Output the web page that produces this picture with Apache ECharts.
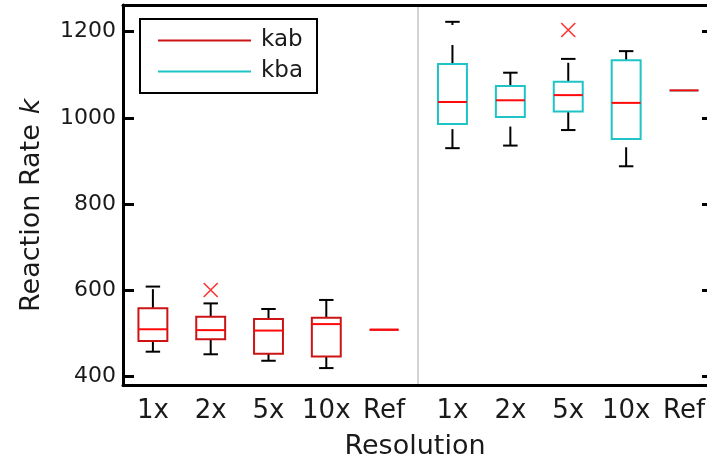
<!DOCTYPE html>
<html>
<head>
<meta charset="utf-8">
<script src="https://cdn.jsdelivr.net/npm/echarts@6/dist/echarts.min.js"></script>
<style>
  html, body { margin: 0; padding: 0; background: #ffffff; }
  #chart { width: 707px; height: 465px; }
</style>
</head>
<body>
<div id="chart"></div>
<script>
// Resolution levels shown under each group
const resolutions = ['1x', '2x', '5x', '10x', 'Ref'];

// Five-number summaries per resolution: [min, Q1, median, Q3, max]
const kabStats = [
  [458, 483, 510, 559, 609],
  [452, 487, 508, 539, 570],
  [437, 453, 507, 534, 557],
  [420, 447, 522, 537, 578],
  [509, 509, 509, 509, 509]
];
const kbaStats = [
  [930, 986, 1037, 1125, 1223],
  [936, 1002, 1041, 1074, 1105],
  [972, 1015, 1053, 1084, 1137],
  [888, 951, 1035, 1134, 1155],
  [1064, 1064, 1064, 1064, 1064]
];

// Outlying samples: [resolution index, value]
const kabOutliers = [[1, 601]];
const kbaOutliers = [[2, 1204]];

// Value-axis tick labels
const yTicks = [400, 600, 800, 1000, 1200];
const yMin = 379.6;
const yMax = 1262;

const FONT = 'DejaVu Sans';
const TEXT = '#1a1a1a';
const KAB_COLOR = '#cc1414';
const KBA_COLOR = '#1ec4c6';
const MEDIAN_COLOR = '#ff0a0a';

// Draws a MATLAB-style box: dashed whiskers, short caps, outlined box, median bar
function boxRenderer(boxColor) {
  return function (params, api) {
    const x = api.value(0);
    const vMin = api.value(1), q1 = api.value(2), med = api.value(3),
          q3 = api.value(4), vMax = api.value(5);
    const band = api.size([1, 0])[0];
    const half = band * 0.25;
    const capHalf = band * 0.125;
    const cx = api.coord([x, med])[0];
    const yMinP = api.coord([x, vMin])[1];
    const yQ1 = api.coord([x, q1])[1];
    const yMed = api.coord([x, med])[1];
    const yQ3 = api.coord([x, q3])[1];
    const yMaxP = api.coord([x, vMax])[1];
    const whisker = { stroke: '#000', lineWidth: 2, lineDash: [19, 20] };
    const cap = { stroke: '#000', lineWidth: 2 };
    const children = [];
    if (vMax > q3) {
      children.push({ type: 'line', shape: { x1: cx, y1: yQ3, x2: cx, y2: yMaxP }, style: whisker });
      children.push({ type: 'line', shape: { x1: cx - capHalf, y1: yMaxP, x2: cx + capHalf, y2: yMaxP }, style: cap });
    }
    if (vMin < q1) {
      children.push({ type: 'line', shape: { x1: cx, y1: yMinP, x2: cx, y2: yQ1 }, style: whisker });
      children.push({ type: 'line', shape: { x1: cx - capHalf, y1: yMinP, x2: cx + capHalf, y2: yMinP }, style: cap });
    }
    children.push({
      type: 'rect',
      shape: { x: cx - half, y: yQ3, width: half * 2, height: yQ1 - yQ3 },
      style: { fill: 'none', stroke: boxColor, lineWidth: 2 }
    });
    children.push({
      type: 'line',
      shape: { x1: cx - half, y1: yMed, x2: cx + half, y2: yMed },
      style: { stroke: MEDIAN_COLOR, lineWidth: 2 }
    });
    return { type: 'group', children: children };
  };
}

const kabData = kabStats.map((s, i) => [i].concat(s));
const kbaData = kbaStats.map((s, i) => [i].concat(s));

const gridTop = 5;
const gridBottom = 79.5;

const chart = echarts.init(document.getElementById('chart'), null, { renderer: 'canvas' });

const hiddenY = (gridIndex) => ({
  type: 'value', gridIndex: gridIndex, min: yMin, max: yMax,
  show: false, splitLine: { show: false }
});

const groupX = (gridIndex) => ({
  type: 'category', gridIndex: gridIndex, data: resolutions,
  axisLine: { show: false }, axisTick: { show: false },
  splitLine: { show: false },
  axisLabel: { fontFamily: FONT, fontSize: 26, color: TEXT, margin: 13, interval: 0 }
});

chart.setOption({
  animation: false,
  backgroundColor: '#ffffff',
  grid: [
    { left: 123, width: 590, top: gridTop, bottom: gridBottom, outerBoundsMode: 'none', containLabel: false },
    { left: 124, width: 289, top: gridTop, bottom: gridBottom, outerBoundsMode: 'none', containLabel: false },
    { left: 423.5, width: 289.5, top: gridTop, bottom: gridBottom, outerBoundsMode: 'none', containLabel: false }
  ],
  legend: {
    orient: 'vertical',
    left: 140,
    top: 19,
    selectedMode: false,
    borderColor: '#000',
    borderWidth: 2,
    padding: [10, 14, 10, 18],
    itemWidth: 93,
    itemHeight: 2,
    itemGap: 8,
    textStyle: { fontFamily: FONT, fontSize: 23, color: TEXT, padding: [0, 0, 0, 5] },
    data: [
      { name: 'kab', icon: 'rect', itemStyle: { color: KAB_COLOR } },
      { name: 'kba', icon: 'rect', itemStyle: { color: KBA_COLOR } }
    ]
  },
  xAxis: [
    {
      // frame: bottom border, group separator, axis title
      type: 'category', gridIndex: 0, data: ['kab', 'kba'],
      position: 'bottom',
      boundaryGap: true,
      axisLine: { lineStyle: { color: '#000', width: 3 } },
      axisTick: { show: false },
      axisLabel: { show: false },
      splitLine: { show: true, interval: 0, lineStyle: { color: '#c4c4c4', width: 1.5 } },
      name: 'Resolution',
      nameLocation: 'middle',
      nameGap: 48,
      nameTextStyle: { fontFamily: FONT, fontSize: 27, color: TEXT, padding: [0, 6, 0, 0] }
    },
    {
      type: 'category', gridIndex: 0, data: ['kab', 'kba'],
      position: 'top',
      axisLine: { lineStyle: { color: '#000', width: 3 } },
      axisTick: { show: false },
      axisLabel: { show: false },
      splitLine: { show: false }
    },
    groupX(1),
    groupX(2)
  ],
  yAxis: [
    {
      type: 'value', gridIndex: 0, min: yMin, max: yMax, position: 'left',
      axisLine: { show: true, lineStyle: { color: '#000', width: 3 } },
      axisTick: { show: true, inside: true, length: 11, customValues: yTicks, lineStyle: { color: '#000', width: 3 } },
      axisLabel: {
        customValues: yTicks, fontFamily: FONT, fontSize: 22, color: TEXT, margin: 7,
        formatter: (v) => String(v)
      },
      splitLine: { show: false },
      name: '{a|Reaction Rate}   {b|k}',
      nameLocation: 'middle',
      nameGap: 78,
      nameTextStyle: {
        color: TEXT,
        padding: [0, 20, 0, 0],
        rich: {
          a: { fontFamily: FONT, fontSize: 27, color: TEXT },
          b: { fontFamily: FONT, fontSize: 27, color: TEXT, fontStyle: 'italic' }
        }
      }
    },
    {
      type: 'value', gridIndex: 0, min: yMin, max: yMax, position: 'right',
      axisLine: { show: true, lineStyle: { color: '#000', width: 3 } },
      axisTick: { show: true, inside: true, length: 11, customValues: yTicks, lineStyle: { color: '#000', width: 3 } },
      axisLabel: { show: false },
      splitLine: { show: false }
    },
    hiddenY(1),
    hiddenY(2)
  ],
  series: [
    {
      name: 'kab', type: 'custom',
      xAxisIndex: 2, yAxisIndex: 2,
      itemStyle: { color: KAB_COLOR },
      renderItem: boxRenderer(KAB_COLOR),
      encode: { x: 0, y: [1, 2, 3, 4, 5] },
      data: kabData,
      z: 3
    },
    {
      name: 'kba', type: 'custom',
      xAxisIndex: 3, yAxisIndex: 3,
      itemStyle: { color: KBA_COLOR },
      renderItem: boxRenderer(KBA_COLOR),
      encode: { x: 0, y: [1, 2, 3, 4, 5] },
      data: kbaData,
      z: 3
    },
    {
      name: 'kab outliers', type: 'scatter',
      xAxisIndex: 2, yAxisIndex: 2,
      symbol: 'path://M0,0L10,10M10,0L0,10',
      symbolSize: 14,
      itemStyle: { color: 'none', borderColor: '#ff0000', borderWidth: 1.6 },
      data: kabOutliers,
      z: 4
    },
    {
      name: 'kba outliers', type: 'scatter',
      xAxisIndex: 3, yAxisIndex: 3,
      symbol: 'path://M0,0L10,10M10,0L0,10',
      symbolSize: 14,
      itemStyle: { color: 'none', borderColor: '#ff0000', borderWidth: 1.6 },
      data: kbaOutliers,
      z: 4
    }
  ]
});
</script>
</body>
</html>
